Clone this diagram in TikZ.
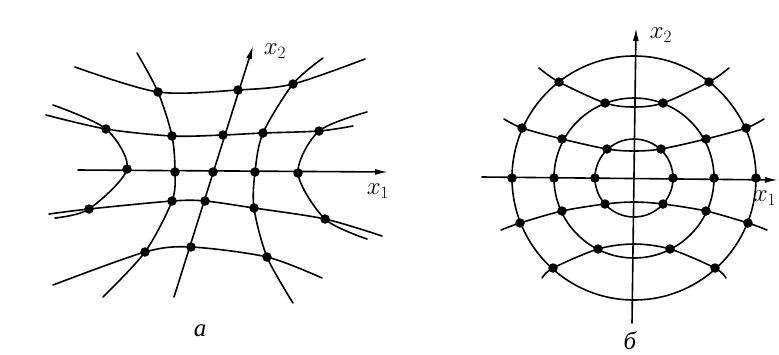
\documentclass[tikz,border=0pt]{standalone}
\usepackage{fontspec}
\usepackage{tikz}
\usetikzlibrary{arrows.meta}
\newfontfamily\cyrfont{Liberation Serif}
\tikzset{
  gridpt/.style={circle,fill=black,draw=none,minimum size=9.5pt,inner sep=0pt},
  gridline/.style={line width=1.6pt,black,line cap=round},
  axisline/.style={gridline,-{Latex[length=13pt,width=6pt]}},
  axislabel/.style={font=\fontsize{25}{27}\selectfont,inner sep=0pt},
  panellabel/.style={font=\fontsize{25}{27}\selectfont\cyrfont\itshape,inner sep=0pt},
}

\begin{document}
\begin{tikzpicture}[x=1pt,y=-1pt]
  \useasboundingbox (0,0) rectangle (779,354);
  % panel a
  \node[gridpt] (nA11) at (158,92) {};
  \node[gridpt] (nA12) at (238,90) {};
  \node[gridpt] (nA13) at (293,84) {};
  \node[gridpt] (nA20) at (106,129) {};
  \node[gridpt] (nA21) at (172,136) {};
  \node[gridpt] (nA22) at (223,135) {};
  \node[gridpt] (nA23) at (263,133) {};
  \node[gridpt] (nA24) at (319,131) {};
  \node[gridpt] (nA30) at (127,169) {};
  \node[gridpt] (nA31) at (175,172) {};
  \node[gridpt] (nA32) at (213,172) {};
  \node[gridpt] (nA33) at (255,172) {};
  \node[gridpt] (nA34) at (298,173) {};
  \node[gridpt] (nA40) at (89,209) {};
  \node[gridpt] (nA41) at (172,201) {};
  \node[gridpt] (nA42) at (205,201) {};
  \node[gridpt] (nA43) at (254,208) {};
  \node[gridpt] (nA44) at (325,219) {};
  \node[gridpt] (nA51) at (145,252) {};
  \node[gridpt] (nA52) at (191,247) {};
  \node[gridpt] (nA53) at (267,257) {};
  \coordinate (cA1W) at (75,67);
  \coordinate (cA1E) at (365,59);
  \coordinate (cA2W) at (46,115);
  \coordinate (cA2E) at (353,126);
  \coordinate (cA3W) at (78,170);
  \coordinate (cA3E) at (388,172);
  \coordinate (cA4W) at (49,214);
  \coordinate (cA4E) at (382,236);
  \coordinate (cA5W) at (53,285);
  \coordinate (cA5E) at (322,278);
  \coordinate (cAV1N) at (137,53);
  \coordinate (cAV1S) at (103,297);
  \coordinate (cAV2S) at (174,297);
  \coordinate (cAV2N) at (253,46);
  \coordinate (cAV3N) at (323,58);
  \coordinate (cAV3S) at (293,303);
  \coordinate (cAH1N) at (53,105);
  \coordinate (cAH1S) at (55,218);
  \coordinate (cAH2N) at (367,112);
  \coordinate (cAH2S) at (367,239);
  \draw[gridline] plot[smooth] coordinates {(cA1W) (nA11.center) (nA12.center) (nA13.center) (cA1E)};
  \draw[gridline] plot[smooth] coordinates {(cA2W) (nA20.center) (nA21.center) (nA22.center) (nA23.center) (nA24.center) (cA2E)};
  \draw[gridline] plot[smooth] coordinates {(cA4W) (nA40.center) (nA41.center) (nA42.center) (nA43.center) (nA44.center) (cA4E)};
  \draw[gridline] plot[smooth] coordinates {(cA5W) (nA51.center) (nA52.center) (nA53.center) (cA5E)};
  \draw[gridline] plot[smooth] coordinates {(cAV1N) (nA11.center) (nA21.center) (nA31.center) (nA41.center) (nA51.center) (cAV1S)};
  \draw[gridline] plot[smooth] coordinates {(cAV3N) (nA13.center) (nA23.center) (nA33.center) (nA43.center) (nA53.center) (cAV3S)};
  \draw[gridline] plot[smooth] coordinates {(cAH1N) (nA20.center) (nA30.center) (nA40.center) (cAH1S)};
  \draw[gridline] plot[smooth] coordinates {(cAH2N) (nA24.center) (nA34.center) (nA44.center) (cAH2S)};
  \draw[axisline] (cA3W) -- (cA3E);
  \draw[axisline] (cAV2S) -- (cAV2N);
  \node[axislabel] (lAx2) at (275,51) {$x_2$};
  \node[axislabel] (lAx1) at (378,191) {$x_1$};
  \node[panellabel] (lA) at (200,331) {а};
  % panel b
  \begin{scope}[shift={(634,178)}]
    \coordinate (cBO) at (0,0);
    \node[gridpt] (nBW3) at (-122,0) {};
    \node[gridpt] (nBW2) at (-80,0) {};
    \node[gridpt] (nBW1) at (-39,0) {};
    \node[gridpt] (nBE1) at (39,0) {};
    \node[gridpt] (nBE2) at (80,0) {};
    \node[gridpt] (nBE3) at (122,0) {};
    \node[gridpt] (nBa1) at (-75,-96) {};
    \node[gridpt] (nBa2) at (-29,-75) {};
    \node[gridpt] (nBa3) at (29,-75) {};
    \node[gridpt] (nBa4) at (75,-96) {};
    \node[gridpt] (nBb1) at (-112,-50) {};
    \node[gridpt] (nBb2) at (-72,-39) {};
    \node[gridpt] (nBb3) at (-27,-29) {};
    \node[gridpt] (nBb4) at (27,-29) {};
    \node[gridpt] (nBb5) at (72,-39) {};
    \node[gridpt] (nBb6) at (112,-50) {};
    \node[gridpt] (nBc1) at (-114,45) {};
    \node[gridpt] (nBc2) at (-72,33) {};
    \node[gridpt] (nBc3) at (-29,26) {};
    \node[gridpt] (nBc4) at (29,26) {};
    \node[gridpt] (nBc5) at (72,33) {};
    \node[gridpt] (nBc6) at (114,45) {};
    \node[gridpt] (nBd1) at (-81,90) {};
    \node[gridpt] (nBd2) at (-36,71) {};
    \node[gridpt] (nBd3) at (36,71) {};
    \node[gridpt] (nBd4) at (81,90) {};
    \coordinate (cBaW) at (-95,-110);
    \coordinate (cBa0) at (0,-71);
    \coordinate (cBaE) at (95,-110);
    \coordinate (cBbW) at (-130,-59);
    \coordinate (cBb0) at (0,-27);
    \coordinate (cBbE) at (130,-59);
    \coordinate (cBcW) at (-133,52);
    \coordinate (cBc0) at (0,24);
    \coordinate (cBcE) at (133,52);
    \coordinate (cBdW) at (-92,100);
    \coordinate (cBd0) at (0,66);
    \coordinate (cBdE) at (92,100);
    \coordinate (cBxW) at (-152,-1);
    \coordinate (cBxE) at (144,2);
    \coordinate (cByS) at (-2,145);
    \coordinate (cByN) at (2,-150);
    \draw[gridline] (cBO) circle[radius=39pt];
    \draw[gridline] (cBO) circle[radius=80pt];
    \draw[gridline] (cBO) circle[radius=122pt];
    \draw[gridline] plot[smooth] coordinates {(cBaW) (nBa1.center) (nBa2.center) (cBa0) (nBa3.center) (nBa4.center) (cBaE)};
    \draw[gridline] plot[smooth] coordinates {(cBbW) (nBb1.center) (nBb2.center) (nBb3.center) (cBb0) (nBb4.center) (nBb5.center) (nBb6.center) (cBbE)};
    \draw[gridline] plot[smooth] coordinates {(cBcW) (nBc1.center) (nBc2.center) (nBc3.center) (cBc0) (nBc4.center) (nBc5.center) (nBc6.center) (cBcE)};
    \draw[gridline] plot[smooth] coordinates {(cBdW) (nBd1.center) (nBd2.center) (cBd0) (nBd3.center) (nBd4.center) (cBdE)};
    \draw[axisline] (cBxW) -- (cBxE);
    \draw[axisline] (cByS) -- (cByN);
    \node[axislabel] (lBx2) at (27,-143) {$x_2$};
    \node[axislabel] (lBx1) at (131,20) {$x_1$};
    \node[panellabel] (lB) at (-4,163) {б};
  \end{scope}
\end{tikzpicture}
\end{document}
